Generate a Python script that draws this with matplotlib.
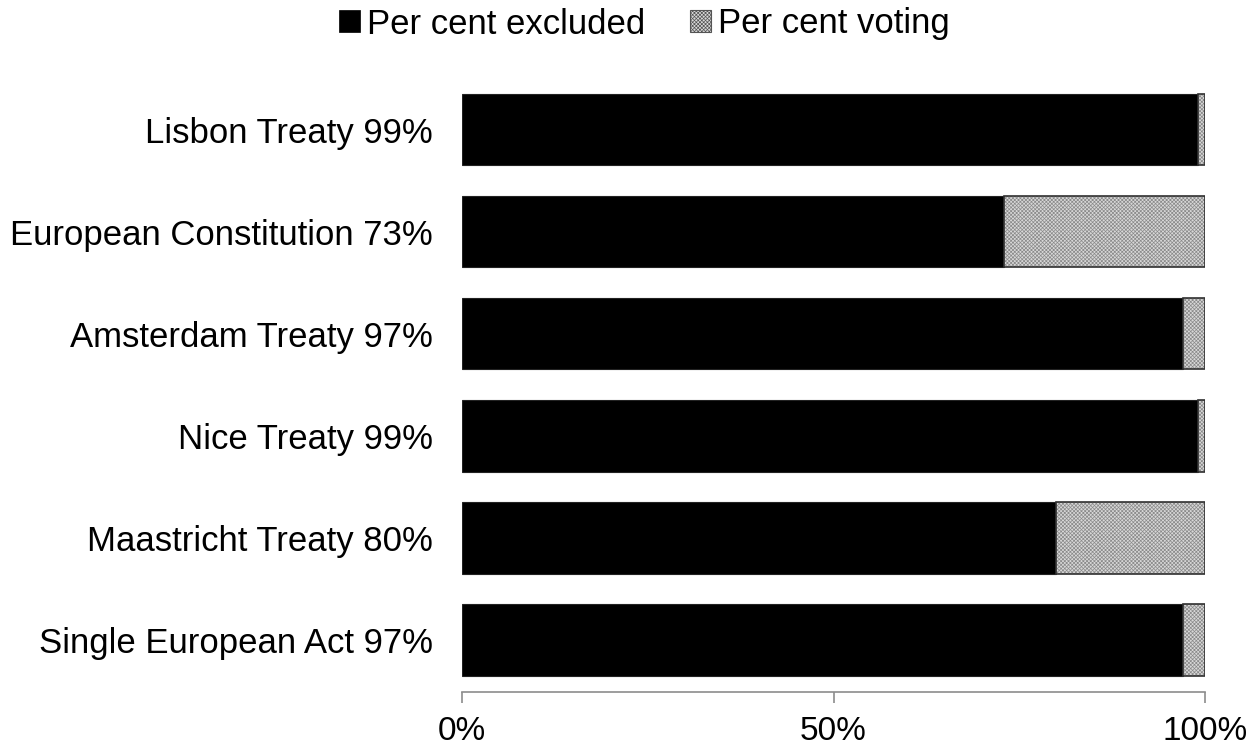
import matplotlib
matplotlib.use("Agg")
import matplotlib.pyplot as plt
import numpy as np
from matplotlib.patches import Patch

plt.rcParams['font.family'] = ['Liberation Sans', 'DejaVu Sans']

categories = ["Single European Act 97%", "Maastricht Treaty 80%", "Nice Treaty 99%",
              "Amsterdam Treaty 97%", "European Constitution 73%", "Lisbon Treaty 99%"]
excluded = [97, 80, 99, 97, 73, 99]
voting = [3, 20, 1, 3, 27, 1]
series_labels = ["Per cent excluded", "Per cent voting"]
xticks = [0, 50, 100]
xtick_labels = ["0%", "50%", "100%"]

fig = plt.figure(figsize=(12.58, 7.5), dpi=100)
ax = fig.add_axes([462/1258, 58/750, (1205-462)/1258, (692-77.6)/750])

y = np.arange(len(categories))
h = 0.70
ax.barh(y, excluded, height=h, color='black', edgecolor='#222222', linewidth=0.8)
plt.rcParams['hatch.linewidth'] = 0.5
ax.barh(y, voting, left=excluded, height=h, color='#d8d8d8', edgecolor='#8a8a8a',
        hatch='xxxxxxxxx', linewidth=0)
ax.barh(y, voting, left=excluded, height=h, facecolor='none', edgecolor='#303030',
        linewidth=1.2)

ax.set_xlim(0, 100)
ax.set_ylim(-0.51, 5.51)
ax.set_yticks(y)
ax.set_yticklabels(categories, fontsize=25)
ax.set_xticks(xticks)
ax.set_xticklabels(xtick_labels, fontsize=24)
ax.tick_params(axis='y', length=0, pad=21)
ax.tick_params(axis='x', length=8, width=1.2, color='#8c8c8c', pad=9)
for s in ['top', 'right', 'left']:
    ax.spines[s].set_visible(False)
ax.spines['bottom'].set_color('#8c8c8c')
ax.spines['bottom'].set_linewidth(1.2)

handles = [Patch(facecolor='black', edgecolor='black', linewidth=0.5),
           Patch(facecolor='#d8d8d8', edgecolor='#555555', hatch='xxxxxxxxx', linewidth=0.8)]
fig.legend(handles, series_labels, loc='center', bbox_to_anchor=(644.5/1258, 1 - 24/750),
           ncol=2, frameon=False, fontsize=25, handlelength=0.6, handleheight=0.6,
           handletextpad=0.2, columnspacing=1.3, borderpad=0, borderaxespad=0)

fig.savefig("out.png", dpi=100)
